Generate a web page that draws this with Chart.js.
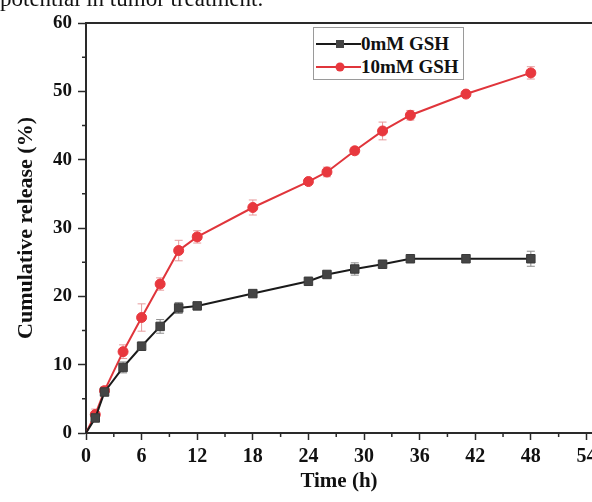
<!DOCTYPE html>
<html>
<head>
<meta charset="utf-8">
<script src="https://cdn.jsdelivr.net/npm/chart.js@4.4.1/dist/chart.umd.min.js"></script>
<style>
  body { margin: 0; background: #fff; }
  #wrap { position: relative; width: 592px; height: 502px; overflow: hidden; }
  #wrap canvas { display: block; }
  #topText { position: absolute; left: 0; top: -13px; font: 23px/23px "Liberation Serif", serif; color: #111; white-space: nowrap; }
  #legend { position: absolute; left: 313px; top: 27px; width: 149px; height: 51px; border: 1px solid #9a9a9a; background: #fff;
            font: bold 19px "Liberation Serif", serif; color: #111; }
  .row { position: absolute; left: 0; height: 22px; display: flex; align-items: center; }
  .row svg { display: block; }
</style>
</head>
<body>
<div id="wrap">
  <div id="topText">potential in tumor treatment.</div>
  <canvas id="releaseChart" width="592" height="502"></canvas>
  <div id="legend"></div>
</div>
<script>
const timeH = [0, 1, 2, 4, 6, 8, 10, 12, 18, 24, 26, 29, 32, 35, 41, 48];
const release0mM = [0, 2.2, 6.0, 9.6, 12.7, 15.6, 18.3, 18.6, 20.4, 22.2, 23.2, 24.0, 24.7, 25.5, 25.5, 25.5];
const err0mM = [0, 0.5, 0.5, 0.8, 0.6, 1.0, 0.8, 0.4, 0.3, 0.5, 0.4, 0.9, 0.4, 0.3, 0.3, 1.1];
const release10mM = [0, 2.7, 6.2, 11.9, 16.9, 21.8, 26.7, 28.7, 33.0, 36.8, 38.2, 41.3, 44.2, 46.5, 49.6, 52.7];
const err10mM = [0, 0.8, 0.6, 1.0, 2.0, 0.9, 1.5, 0.9, 1.1, 0.3, 0.7, 0.5, 1.3, 0.7, 0.4, 0.9];
const xTicks = [0, 6, 12, 18, 24, 30, 36, 42, 48, 54];
const xMinorTicks = [3, 9, 15, 21, 27, 33, 39, 45, 51];
const yMinorTicks = [5, 15, 25, 35, 45, 55];
const seriesNames = ['0mM GSH', '10mM GSH'];

const serif = '"Liberation Serif", "Times New Roman", serif';
const axisColor = '#2a2a2a';

const datasets = [
    {
        label: seriesNames[0],
        data: timeH.map((t, i) => ({ x: t, y: release0mM[i] })),
        errors: err0mM,
        errColor: '#8c8c8c',
        borderColor: '#1a1a1a',
        backgroundColor: '#454545',
        pointBorderColor: '#3a3a3a',
        pointStyle: 'rect',
        pointRadius: ctx => ctx.dataIndex === 0 ? 0 : 6,
        pointBorderWidth: 1,
        borderWidth: 2,
        tension: 0
    },
    {
        label: seriesNames[1],
        data: timeH.map((t, i) => ({ x: t, y: release10mM[i] })),
        errors: err10mM,
        errColor: '#e79a9c',
        borderColor: '#e0353b',
        backgroundColor: '#e8383e',
        pointBorderColor: '#e8383e',
        pointStyle: 'circle',
        pointRadius: ctx => ctx.dataIndex === 0 ? 0 : 5,
        pointBorderWidth: 1,
        borderWidth: 2,
        tension: 0
    }
];

// error bars + minor ticks + top frame
const extras = {
    id: 'extras',
    beforeDatasetsDraw(chart) {
        const ctx = chart.ctx;
        const xs = chart.scales.x, ys = chart.scales.y;
        ctx.save();
        ctx.lineWidth = 1;
        chart.data.datasets.forEach(ds => {
            ctx.strokeStyle = ds.errColor;
            ds.data.forEach((p, i) => {
                const e = ds.errors[i];
                if (!e) return;
                const px = xs.getPixelForValue(p.x);
                const top = ys.getPixelForValue(p.y + e);
                const bot = ys.getPixelForValue(p.y - e);
                ctx.beginPath();
                ctx.moveTo(px, top); ctx.lineTo(px, bot);
                ctx.moveTo(px - 4, top); ctx.lineTo(px + 4, top);
                ctx.moveTo(px - 4, bot); ctx.lineTo(px + 4, bot);
                ctx.stroke();
            });
        });
        ctx.restore();
    },
    afterDraw(chart) {
        const ctx = chart.ctx;
        const xs = chart.scales.x, ys = chart.scales.y;
        const area = chart.chartArea;
        ctx.save();
        ctx.strokeStyle = axisColor;
        ctx.lineWidth = 1.5;
        ctx.beginPath();
        xMinorTicks.forEach(v => {
            const px = xs.getPixelForValue(v);
            ctx.moveTo(px, area.bottom); ctx.lineTo(px, area.bottom + 4);
        });
        yMinorTicks.forEach(v => {
            const py = ys.getPixelForValue(v);
            ctx.moveTo(area.left, py); ctx.lineTo(area.left - 4, py);
        });
        ctx.stroke();
        ctx.lineWidth = 2;
        ctx.beginPath();
        ctx.moveTo(area.left, area.top);
        ctx.lineTo(area.right, area.top);
        ctx.stroke();
        ctx.restore();
    }
};

const ctx = document.getElementById('releaseChart').getContext('2d');
new Chart(ctx, {
    type: 'line',
    data: { datasets: datasets },
    plugins: [extras],
    options: {
        responsive: false,
        animation: false,
        layout: { autoPadding: false, padding: { top: 23, left: 0, right: 0, bottom: 0 } },
        plugins: {
            legend: { display: false },
            tooltip: { enabled: false }
        },
        scales: {
            x: {
                type: 'linear',
                min: 0,
                max: 54.6,
                afterBuildTicks: scale => { scale.ticks = xTicks.map(v => ({ value: v })); },
                afterFit: scale => { scale.height = 69; scale.paddingLeft = 0; scale.paddingRight = 0; },
                grid: { drawOnChartArea: false, drawTicks: true, tickLength: 7, tickColor: axisColor, tickWidth: 1.5 },
                border: { color: axisColor, width: 2 },
                ticks: { color: '#111', padding: 5, maxRotation: 0, autoSkip: false, font: { family: serif, size: 20, weight: 'bold' } },
                title: { display: true, text: 'Time (h)', color: '#111', padding: { top: 0, bottom: 8 }, font: { family: serif, size: 21, weight: 'bold' } }
            },
            y: {
                min: 0,
                max: 60,
                ticks: { stepSize: 10, color: '#111', padding: 6, font: { family: serif, size: 19, weight: 'bold' } },
                afterFit: scale => { scale.width = 86; scale.paddingTop = 0; scale.paddingBottom = 0; },
                grid: { drawOnChartArea: false, drawTicks: true, tickLength: 8, tickColor: axisColor, tickWidth: 1.5 },
                border: { color: axisColor, width: 2 },
                title: { display: true, text: 'Cumulative release (%)', color: '#111', padding: { top: 13, bottom: 0 }, font: { family: serif, size: 22, weight: 'bold' } }
            }
        }
    }
});

// legend
const legend = document.getElementById('legend');
datasets.forEach((ds, i) => {
    const row = document.createElement('div');
    row.className = 'row';
    row.style.top = (5 + i * 23) + 'px';
    const marker = ds.pointStyle === 'rect'
        ? '<rect x="22" y="7" width="8" height="8" fill="' + ds.backgroundColor + '"/>'
        : '<circle cx="26" cy="11" r="4.5" fill="' + ds.backgroundColor + '"/>';
    row.innerHTML = '<svg width="47" height="22"><line x1="2" y1="11" x2="47" y2="11" stroke="' + ds.borderColor + '" stroke-width="2"/>' + marker + '</svg>' +
        '<span>' + ds.label + '</span>';
    legend.appendChild(row);
});
</script>
</body>
</html>
